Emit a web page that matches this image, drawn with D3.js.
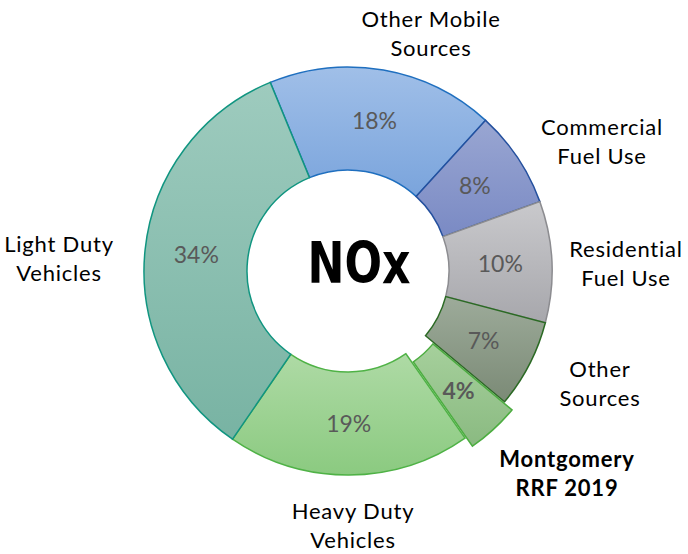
<!DOCTYPE html>
<html>
<head>
<meta charset="utf-8">
<script src="https://cdn.jsdelivr.net/npm/d3@7"></script>
<style>
  body { margin: 0; background: #fff; }
  svg text { font-family: Lato, "Open Sans", sans-serif; }
</style>
</head>
<body>
<div id="chart"></div>
<script>
// NOx emission shares, clockwise from the top-left
const categories = ['Other Mobile Sources', 'Commercial Fuel Use', 'Residential Fuel Use',
  'Other Sources', 'Montgomery RRF 2019', 'Heavy Duty Vehicles', 'Light Duty Vehicles'];
const labelLines = [['Other Mobile', 'Sources'], ['Commercial', 'Fuel Use'], ['Residential', 'Fuel Use'],
  ['Other', 'Sources'], ['Montgomery', 'RRF 2019'], ['Heavy Duty', 'Vehicles'], ['Light Duty', 'Vehicles']];
const shares = [18.0, 7.7, 9.6, 7.0, 4.2, 19.3, 34.2];
const highlight = 'Montgomery RRF 2019';
const pollutant = 'NOx';

// styling
const fillTop = ['#a0bfe8', '#99a6d2', '#c9c9cc', '#9dab9a', '#a6d09c', '#aedaa5', '#9ecbbe'];
const fillBottom = ['#7aa4dc', '#7a8ac4', '#a7a7ac', '#7b8a76', '#8aba81', '#8bca80', '#78b3a3'];
const strokes = ['#1f6fbf', '#24509e', '#8c8c90', '#2b6a24', '#4cad40', '#4fb246', '#109580'];
// first-line baseline centre of each outside label
const labelPos = [[431, 27], [602, 135], [626, 257], [600, 377], [567, 467], [353, 519], [59, 252]];

let width = 688, height = 554;
let cx = 348, cy = 271;
let outerR = 204, innerR = 101, explode = 11;
let startDeg = -22.4;

let $svg = d3.select('#chart').append('svg')
    .attr('width', width)
    .attr('height', height);

let defs = $svg.append('defs');
categories.forEach((c, i) => {
    let g = defs.append('linearGradient')
        .attr('id', 'grad' + i)
        .attr('x1', 0).attr('y1', 0).attr('x2', 0).attr('y2', 1);
    g.append('stop').attr('offset', '0%').attr('stop-color', fillTop[i]);
    g.append('stop').attr('offset', '100%').attr('stop-color', fillBottom[i]);
});

let pie = d3.pie()
    .sort(null)
    .value(d => d.value)
    .startAngle(startDeg * Math.PI / 180)
    .endAngle((startDeg + 360) * Math.PI / 180);

let rows = categories.map((c, i) => ({name: c, value: shares[i], idx: i}));
let arcs = pie(rows);

let arc = d3.arc().innerRadius(innerR).outerRadius(outerR);

let offset = (d) => {
    if (d.data.name !== highlight) return [0, 0];
    let a = (d.startAngle + d.endAngle) / 2;
    return [Math.sin(a) * explode, -Math.cos(a) * explode];
};

let $g = $svg.append('g').attr('transform', `translate(${cx},${cy})`);

// draw the exploded slice first so neighbours' borders stay visible
let ordered = arcs.slice().sort((a, b) => (b.data.name === highlight) - (a.data.name === highlight));

$g.selectAll('path.slice')
    .data(ordered)
    .join('path')
    .attr('class', 'slice')
    .attr('d', arc)
    .attr('transform', d => `translate(${offset(d)})`)
    .attr('fill', d => `url(#grad${d.data.idx})`)
    .attr('stroke', d => strokes[d.data.idx])
    .attr('stroke-width', 1.5)
    .attr('stroke-linejoin', 'miter');

// percent labels at slice centroids
$g.selectAll('text.pct')
    .data(arcs)
    .join('text')
    .attr('class', 'pct')
    .attr('transform', d => {
        let [x, y] = arc.centroid(d);
        let [ox, oy] = offset(d);
        return `translate(${x + ox},${y + oy})`;
    })
    .attr('text-anchor', 'middle')
    .attr('dy', '0.35em')
    .attr('fill', '#595959')
    .style('font-size', '23px')
    .style('font-weight', d => d.data.name === highlight ? 700 : 400)
    .text(d => Math.round(d.data.value) + '%');

// category labels outside the ring
let $labels = $svg.selectAll('text.cat')
    .data(arcs)
    .join('text')
    .attr('class', 'cat')
    .attr('text-anchor', 'middle')
    .attr('fill', '#000')
    .style('font-size', '22px')
    .style('letter-spacing', '0.8px')
    .style('font-weight', d => d.data.name === highlight ? 700 : 400);

$labels.each(function (d) {
    let [x, y] = labelPos[d.data.idx];
    d3.select(this).selectAll('tspan')
        .data(labelLines[d.data.idx])
        .join('tspan')
        .attr('x', x)
        .attr('y', (t, j) => y + j * 29)
        .text(t => t);
});

// centre title
$svg.append('text')
    .attr('x', 359)
    .attr('y', 283)
    .attr('text-anchor', 'middle')
    .attr('textLength', 103)
    .attr('lengthAdjust', 'spacingAndGlyphs')
    .style('font-family', '"Liberation Sans Narrow", "DejaVu Sans Condensed", sans-serif')
    .style('font-weight', 700)
    .style('font-size', '57px')
    .attr('fill', '#000')
    .text(pollutant);
</script>
</body>
</html>
